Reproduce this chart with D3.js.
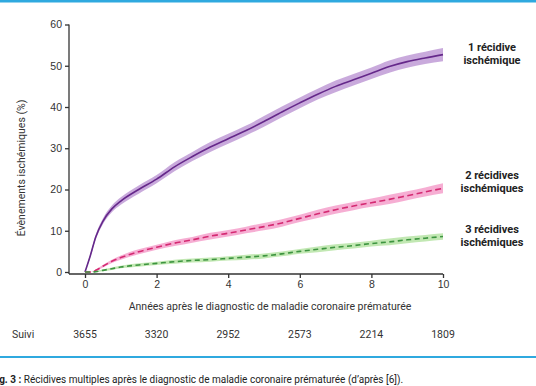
<!DOCTYPE html>
<meta charset="utf-8">
<head>
    <title>Récidives multiples</title>
    <script src="https://d3js.org/d3.v7.min.js"></script>
</head>
<style>
body { margin: 0; background: #fff; }
svg { display: block; font-family: 'Roboto', sans-serif; }
.axis text { font-size: 10.5px; fill: #333; }
.axis path, .axis line { stroke: #333; stroke-width: 1.3; }
.serie-label { font-size: 11px; font-weight: bold; fill: #222; text-anchor: middle; }
</style>
<body>
<svg width="536" height="386"></svg>
<script>

// années de suivi
const years = [0, 0.15, 0.3, 0.5, 0.75, 1, 1.5, 2, 2.5, 3, 3.5, 4, 4.5, 5, 5.5, 6, 6.5, 7, 7.5, 8, 8.5, 9, 9.5, 10];

// 1 récidive (trait plein)
const recid1 = [0, 4, 8.5, 12.3, 15.3, 17.2, 20, 22.5, 25.5, 28, 30.3, 32.3, 34.3, 36.5, 38.8, 41, 43.1, 45, 46.6, 48.2, 49.8, 51, 51.9, 52.7];
const recid1Ic = [0, 0.4, 0.6, 0.7, 0.8, 0.9, 1, 1, 1.1, 1.1, 1.2, 1.2, 1.2, 1.3, 1.3, 1.3, 1.3, 1.4, 1.4, 1.4, 1.5, 1.5, 1.5, 1.6];

// 2 récidives (tirets)
const recid2 = [0, 0, 0.4, 1.4, 2.6, 3.5, 4.9, 6, 7, 7.8, 8.7, 9.4, 10.2, 11, 11.9, 13, 14.1, 15.1, 16, 16.8, 17.6, 18.5, 19.4, 20.3];
const recid2Ic = [0, 0, 0.2, 0.3, 0.4, 0.5, 0.6, 0.6, 0.7, 0.7, 0.8, 0.8, 0.8, 0.9, 0.9, 0.9, 1, 1, 1, 1, 1.1, 1.1, 1.1, 1.2];

// 3 récidives (tirets)
const recid3 = [0, 0, 0.1, 0.4, 0.8, 1.2, 1.7, 2.1, 2.5, 2.8, 3, 3.3, 3.6, 3.9, 4.4, 5, 5.5, 6, 6.4, 6.9, 7.3, 7.8, 8.2, 8.6];
const recid3Ic = [0, 0, 0.1, 0.2, 0.3, 0.3, 0.4, 0.4, 0.5, 0.5, 0.5, 0.5, 0.6, 0.6, 0.6, 0.6, 0.7, 0.7, 0.7, 0.7, 0.8, 0.8, 0.8, 0.8];

const xTicks = [0, 2, 4, 6, 8, 10];
const yTicks = [0, 10, 20, 30, 40, 50, 60];
const suivi = [3655, 3320, 2952, 2573, 2214, 1809];

const series = [
    {name: ['1 récidive', 'ischémique'], values: recid1, ic: recid1Ic, line: '#65288a', band: '#bf9bd6', dash: null, labelY: 51},
    {name: ['2 récidives', 'ischémiques'], values: recid2, ic: recid2Ic, line: '#d42a72', band: '#f5a0cb', dash: '6,3.5', labelY: 179},
    {name: ['3 récidives', 'ischémiques'], values: recid3, ic: recid3Ic, line: '#3d9440', band: '#b7e4a6', dash: '5,3.5', labelY: 233}
];

const svg = d3.select('svg');

const x = d3.scaleLinear().domain([0, 10]).range([85, 443]);
const y = d3.scaleLinear().domain([0, 60]).range([272, 24.5]);

// filets bleus
svg.append('line')
    .attr('x1', 0).attr('x2', 536).attr('y1', 1).attr('y2', 1)
    .attr('stroke', '#2fa9df').attr('stroke-width', 3);
svg.append('line')
    .attr('x1', 0).attr('x2', 536).attr('y1', 357).attr('y2', 357)
    .attr('stroke', '#2fa9df').attr('stroke-width', 2);

// axes
svg.append('g')
    .attr('class', 'axis')
    .attr('transform', 'translate(69,0)')
    .call(d3.axisLeft(y).tickValues(yTicks).tickSize(4).tickPadding(3))
    .call(g => g.select('.domain').attr('d', `M0,${y(60)}V274`));

svg.append('g')
    .attr('class', 'axis')
    .attr('transform', 'translate(0,274)')
    .call(d3.axisBottom(x).tickValues(xTicks).tickSize(4).tickPadding(3))
    .call(g => g.select('.domain').attr('d', 'M69,0H443'));

svg.append('text')
    .attr('transform', 'translate(25,168) rotate(-90)')
    .attr('text-anchor', 'middle')
    .style('font-size', '10.5px')
    .style('fill', '#333')
    .text('Évènements ischémiques (%)');

svg.append('text')
    .attr('x', 270).attr('y', 310)
    .attr('text-anchor', 'middle')
    .style('font-size', '10.5px')
    .style('fill', '#333')
    .text('Années après le diagnostic de maladie coronaire prématurée');

// courbes
const area = d3.area()
    .x(d => x(d.t))
    .y0(d => y(Math.max(0, d.v - d.e)))
    .y1(d => y(d.v + d.e))
    .curve(d3.curveMonotoneX);

const line = d3.line()
    .x(d => x(d.t))
    .y(d => y(d.v))
    .curve(d3.curveMonotoneX);

const plot = svg.append('g');

series.forEach(s => {
    const pts = years.map((t, i) => ({t: t, v: s.values[i], e: s.ic[i]}));

    plot.append('path')
        .attr('d', area(pts))
        .attr('fill', s.band)
        .attr('opacity', 0.85);

    plot.append('path')
        .attr('d', line(pts))
        .attr('fill', 'none')
        .attr('stroke', s.line)
        .attr('stroke-width', 1.6)
        .attr('stroke-dasharray', s.dash);

    svg.append('text')
        .attr('class', 'serie-label')
        .attr('x', 492).attr('y', s.labelY)
        .selectAll('tspan')
        .data(s.name)
        .enter()
        .append('tspan')
        .attr('x', 492)
        .attr('dy', (d, i) => i === 0 ? 0 : 13)
        .text(d => d);
});

// effectifs suivis
svg.append('text')
    .attr('x', 12).attr('y', 338)
    .style('font-size', '10.5px')
    .style('fill', '#333')
    .text('Suivi');

svg.append('g')
    .selectAll('text')
    .data(suivi)
    .enter()
    .append('text')
    .attr('x', (d, i) => x(xTicks[i]))
    .attr('y', 338)
    .attr('text-anchor', 'middle')
    .style('font-size', '10.5px')
    .style('fill', '#333')
    .text(d => d);

// légende de la figure (le début est rogné comme sur l'original)
const caption = svg.append('text')
    .attr('x', -9).attr('y', 383)
    .style('font-size', '10px')
    .style('fill', '#222');
caption.append('tspan').style('font-weight', 'bold').text('Fig. 3 : ');
caption.append('tspan').text('Récidives multiples après le diagnostic de maladie coronaire prématurée (d’après [6]).');

</script>
</body>
